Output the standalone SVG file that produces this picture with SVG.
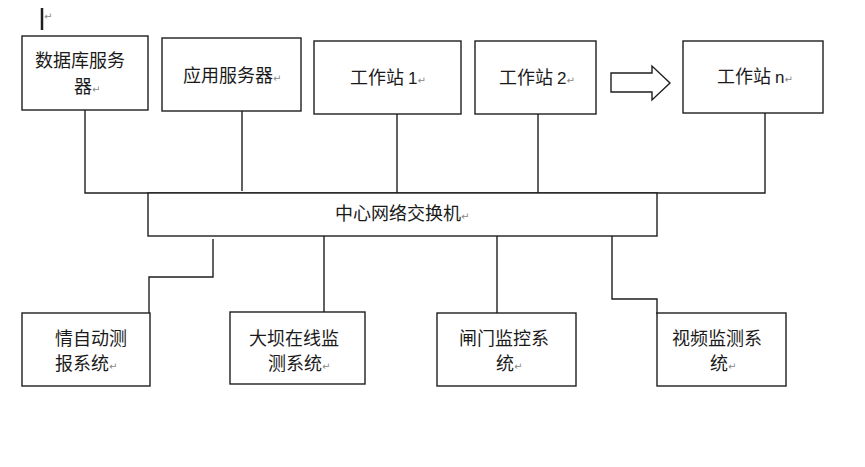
<svg xmlns="http://www.w3.org/2000/svg" width="865" height="467" viewBox="0 0 865 467">
<style>
.box{fill:#fff;stroke:#1e1e1e;stroke-width:1.4}
.ln{fill:none;stroke:#1e1e1e;stroke-width:1.4}
.t{font-family:"Noto Sans CJK SC","Microsoft YaHei",sans-serif;font-size:18px;fill:#1a1a1a}
.n{font-family:"Liberation Sans",Arial,sans-serif;font-size:17px;fill:#1a1a1a}
.r{font-family:"DejaVu Sans",sans-serif;font-size:10px;fill:#888}
</style>
<rect width="865" height="467" fill="#fff"/>
<g id="cursor">
<line x1="42" y1="8" x2="42" y2="30" stroke="#1e1e1e" stroke-width="2.5"/>
<text class="r" x="44" y="20">↵</text>
</g>
<g id="connectors">
<polyline class="ln" points="85,110 85,193 765,193 765,113"/>
<line class="ln" x1="242" y1="111" x2="242" y2="191"/>
<line class="ln" x1="397" y1="114" x2="397" y2="193"/>
<line class="ln" x1="538" y1="114" x2="538" y2="193"/>
<polyline class="ln" points="213,239 213,277 149,277 149,313"/>
<line class="ln" x1="324" y1="236" x2="324" y2="313"/>
<line class="ln" x1="497" y1="236" x2="497" y2="314"/>
<polyline class="ln" points="612,236 612,299 657,299 657,314"/>
</g>
<g id="arrow">
<polygon class="box" points="611,73 652,73 652,66 670,83 652,100 652,92 611,92"/>
</g>
<g id="db">
<rect class="box" x="22" y="36" width="126" height="74"/>
<text class="t" x="35" y="67">数据库服务</text>
<text class="t" x="74" y="93">器<tspan class="r">↵</tspan></text>
</g>
<g id="app">
<rect class="box" x="162" y="38" width="139" height="73"/>
<text class="t" x="183" y="82">应用服务器<tspan class="r">↵</tspan></text>
</g>
<g id="ws1">
<rect class="box" x="314" y="41" width="147" height="73"/>
<text class="t" x="350" y="84">工作站 <tspan class="n">1</tspan><tspan class="r">↵</tspan></text>
</g>
<g id="ws2">
<rect class="box" x="475" y="41" width="121" height="73"/>
<text class="t" x="499" y="84">工作站 <tspan class="n">2</tspan><tspan class="r">↵</tspan></text>
</g>
<g id="wsn">
<rect class="box" x="683" y="41" width="140" height="72"/>
<text class="t" x="717" y="83">工作站 <tspan class="n">n</tspan><tspan class="r">↵</tspan></text>
</g>
<g id="switch">
<rect class="box" x="148" y="193" width="509" height="43"/>
<text class="t" x="335" y="220">中心网络交换机<tspan class="r">↵</tspan></text>
</g>
<g id="hydro">
<rect class="box" x="22" y="313" width="128" height="73"/>
<text class="t" x="55" y="345">情自动测</text>
<text class="t" x="55" y="370">报系统<tspan class="r">↵</tspan></text>
</g>
<g id="dam">
<rect class="box" x="230" y="312" width="135" height="72"/>
<text class="t" x="249" y="345">大坝在线监</text>
<text class="t" x="268" y="370">测系统<tspan class="r">↵</tspan></text>
</g>
<g id="gate">
<rect class="box" x="437" y="313" width="139" height="73"/>
<text class="t" x="459" y="345">闸门监控系</text>
<text class="t" x="496" y="370">统<tspan class="r">↵</tspan></text>
</g>
<g id="video">
<rect class="box" x="657" y="313" width="129" height="73"/>
<text class="t" x="672" y="345">视频监测系</text>
<text class="t" x="710" y="370">统<tspan class="r">↵</tspan></text>
</g>
</svg>
